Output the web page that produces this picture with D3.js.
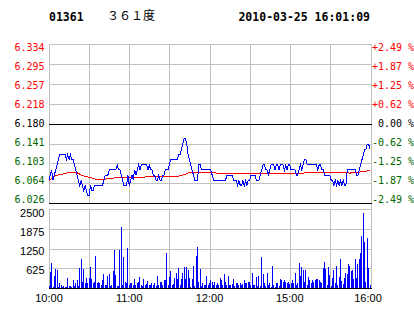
<!DOCTYPE html>
<html>
<head>
<meta charset="utf-8">
<script src="https://cdn.jsdelivr.net/npm/d3@7"></script>
<style>
body { margin: 0; background: #fff; }
svg { display: block; }
text { font-family: "DejaVu Sans Mono", monospace; font-size: 10px; white-space: pre; }
.sans { font-family: "Liberation Sans", Arial, sans-serif; font-size: 11px; }
</style>
</head>
<body>
<div id="chart"></div>
<script>
var stockCode = "01361",
    stockName = "３６１度",
    stamp = "2010-03-25 16:01:09";

// price axis (prev close 6.180, +/-2.49 %)
var priceTicks = [6.026, 6.064, 6.103, 6.141, 6.180, 6.218, 6.257, 6.295, 6.334];
var pctLabels  = ["-2.49 %", "-1.87 %", "-1.25 %", "-0.62 %", " 0.00 %", "+0.62 %", "+1.25 %", "+1.87 %", "+2.49 %"];
var volTicks   = [0, 625, 1250, 1875, 2500];
var timeTicks  = [0, 60, 120, 180, 240];
var timeLabels = ["10:00", "11:00", "12:00", "15:00", "16:00"];

// one price per trading minute (10:00-12:30, 14:30-16:00)
var prices = [
  6.07,6.08,6.09,6.07,6.08,6.09,6.10,6.11,6.12,6.12,
  6.12,6.12,6.12,6.11,6.12,6.11,6.12,6.11,6.11,6.10,
  6.09,6.08,6.07,6.06,6.07,6.06,6.05,6.06,6.05,6.04,
  6.04,6.06,6.05,6.05,6.06,6.06,6.06,6.06,6.06,6.06,
  6.06,6.07,6.08,6.08,6.08,6.09,6.09,6.09,6.09,6.09,
  6.09,6.10,6.09,6.09,6.08,6.07,6.06,6.06,6.06,6.08,
  6.06,6.07,6.08,6.07,6.09,6.08,6.09,6.10,6.09,6.10,
  6.10,6.10,6.10,6.10,6.09,6.10,6.09,6.09,6.08,6.08,
  6.07,6.07,6.08,6.07,6.07,6.08,6.08,6.09,6.09,6.09,
  6.10,6.11,6.11,6.11,6.11,6.11,6.11,6.12,6.12,6.13,
  6.14,6.15,6.15,6.14,6.12,6.11,6.10,6.09,6.08,6.07,
  6.07,6.07,6.10,6.10,6.09,6.09,6.09,6.09,6.09,6.09,
  6.09,6.09,6.08,6.07,6.07,6.07,6.07,6.07,6.07,6.07,
  6.07,6.07,6.07,6.08,6.08,6.08,6.08,6.08,6.07,6.07,
  6.07,6.06,6.07,6.06,6.06,6.07,6.06,6.07,6.06,6.07,
  6.07,6.08,6.08,6.08,6.08,6.07,6.07,6.07,6.08,6.09,
  6.10,6.10,6.09,6.09,6.08,6.09,6.10,6.10,6.10,6.09,
  6.10,6.10,6.09,6.10,6.10,6.10,6.09,6.10,6.09,6.10,
  6.10,6.09,6.09,6.09,6.09,6.08,6.08,6.09,6.10,6.09,
  6.10,6.11,6.11,6.10,6.10,6.10,6.10,6.10,6.10,6.10,
  6.10,6.09,6.10,6.10,6.09,6.09,6.08,6.08,6.08,6.08,
  6.08,6.07,6.07,6.06,6.07,6.06,6.07,6.06,6.07,6.06,
  6.07,6.06,6.06,6.09,6.09,6.09,6.09,6.09,6.09,6.09,
  6.08,6.08,6.09,6.10,6.11,6.12,6.13,6.13,6.14,6.14,
  6.13
];

// average price, read every 5 minutes
var avgMinutes = d3.range(0, 241, 5);
var avgPrices = [
  6.070,6.079,6.082,6.085,6.086,6.079,6.076,6.072,6.072,6.073,
  6.075,6.075,6.076,6.076,6.076,6.077,6.077,6.077,6.077,6.077,
  6.080,6.085,6.085,6.085,6.085,6.084,6.083,6.083,6.083,6.083,
  6.083,6.083,6.083,6.083,6.083,6.083,6.083,6.083,6.084,6.085,
  6.085,6.085,6.085,6.085,6.085,6.084,6.085,6.087,6.089
];

// volume per minute
var volumes = [
  60,510,790,40,385,600,580,40,155,90,
  30,60,20,40,320,60,70,40,260,50,
  155,260,50,635,915,200,600,155,320,155,
  310,665,270,155,200,1010,165,200,145,90,
  240,450,90,110,375,450,60,110,550,1195,
  425,70,50,1195,1945,110,980,200,155,1260,
  110,155,155,110,290,110,155,200,355,90,
  60,290,110,135,220,90,90,155,80,155,
  50,375,90,200,200,90,260,260,1100,80,
  355,530,90,135,320,480,290,625,90,290,
  480,655,270,655,570,320,40,300,685,50,
  1000,1310,200,590,50,150,110,90,375,110,
  155,260,200,90,200,90,155,110,320,260,
  110,450,200,90,375,90,90,135,300,60,
  155,155,90,155,90,135,260,155,155,200,
  200,80,480,110,80,355,50,385,60,980,
  450,155,60,480,80,155,30,700,90,30,
  155,155,50,290,250,200,240,200,155,200,
  135,155,240,155,490,90,155,800,385,655,
  570,200,580,90,340,240,155,260,200,260,
  300,290,260,200,155,635,820,610,90,675,
  425,60,320,570,155,700,80,340,905,230,
  135,320,490,450,760,700,550,580,290,915,
  320,760,905,1110,1630,2380,1465,200,1590,635,
  100
];

var W = 414, H = 314,
    left = 49, right = 371,
    gridColor = "#c0c0c0",
    up = "#ff0000", down = "#006600";

var svg = d3.select("#chart").append("svg")
    .attr("width", W).attr("height", H);

var x = d3.scaleLinear().domain([0, 240]).range([left, 370]);
var yPrice = d3.scaleLinear().domain([6.026, 6.334]).range([203, 44]);
var yPriceLabel = d3.scaleLinear().domain([6.026, 6.334]).range([203, 51]);
var yVol = d3.scaleLinear().domain([0, 2500]).range([288, 209]);
var yVolLabel = d3.scaleLinear().domain([625, 2500]).range([273.5, 216.5]);

function px(v) { return Math.round(v) + 0.5; }

function hline(g, y, color) {
    g.append("line")
        .attr("x1", left).attr("x2", right + 1)
        .attr("y1", px(y)).attr("y2", px(y))
        .attr("stroke", color).attr("shape-rendering", "crispEdges");
}

var grid = svg.append("g");

// vertical grid, every 30 minutes, in both panels
d3.range(0, 241, 30).forEach(function (t) {
    var xx = t === 240 ? right : x(t);
    [[44, 203], [209, 288]].forEach(function (r) {
        grid.append("line")
            .attr("x1", px(xx)).attr("x2", px(xx))
            .attr("y1", r[0]).attr("y2", r[1] + 1)
            .attr("stroke", gridColor).attr("shape-rendering", "crispEdges");
    });
});
grid.append("line")
    .attr("x1", px(right)).attr("x2", px(right))
    .attr("y1", 44).attr("y2", 289)
    .attr("stroke", gridColor).attr("shape-rendering", "crispEdges");

priceTicks.forEach(function (p, i) {
    var black = (i === 4 || i === 0);
    hline(grid, yPrice(p), black ? "#000" : gridColor);
});
volTicks.forEach(function (v, i) {
    hline(grid, yVol(v), i === 0 ? "#000" : gridColor);
});

// volume bars
svg.append("g").selectAll("rect")
    .data(volumes)
    .enter().append("rect")
    .attr("x", function (d, i) { return Math.floor(x(i)); })
    .attr("width", 1)
    .attr("y", function (d) { return Math.round(yVol(d)); })
    .attr("height", function (d) { return 288 - Math.round(yVol(d)); })
    .attr("fill", "#0000ff")
    .attr("shape-rendering", "crispEdges");

// average line
var avgLine = d3.line()
    .x(function (d, i) { return x(avgMinutes[i]); })
    .y(function (d) { return yPrice(d); });
svg.append("path")
    .attr("d", avgLine(avgPrices))
    .attr("fill", "none").attr("stroke", "#ff0000").attr("stroke-width", 1)
    .attr("shape-rendering", "crispEdges");

// price line
var priceLine = d3.line()
    .x(function (d, i) { return x(i); })
    .y(function (d) { return yPrice(d); });
svg.append("path")
    .attr("d", priceLine(prices))
    .attr("fill", "none").attr("stroke", "#0000ff").attr("stroke-width", 1)
    .attr("shape-rendering", "crispEdges");

// left price labels + right percent labels
function tickColor(i) { return i > 4 ? up : (i < 4 ? down : "#000"); }

svg.append("g").selectAll("text")
    .data(priceTicks)
    .enter().append("text")
    .attr("x", 44.5)
    .attr("y", function (d) { return yPriceLabel(d); })
    .attr("text-anchor", "end")
    .attr("fill", function (d, i) { return tickColor(i); })
    .text(function (d) { return d.toFixed(3); });

svg.append("g").selectAll("text")
    .data(pctLabels)
    .enter().append("text")
    .attr("x", right + 1)
    .attr("y", function (d, i) { return yPriceLabel(priceTicks[i]); })
    .attr("fill", function (d, i) { return tickColor(i); })
    .text(function (d) { return d; });

// volume labels
svg.append("g").selectAll("text")
    .data(volTicks.slice(1))
    .enter().append("text")
    .attr("class", "sans")
    .attr("x", 44.5)
    .attr("y", function (d) { return yVolLabel(d); })
    .attr("text-anchor", "end")
    .attr("fill", "#000")
    .text(function (d) { return d; });

// time labels
svg.append("g").selectAll("text")
    .data(timeTicks)
    .enter().append("text")
    .attr("class", "sans")
    .attr("x", function (d) { return x(d); })
    .attr("y", 302)
    .attr("text-anchor", "middle")
    .attr("dx", function (d, i) { return i === timeTicks.length - 1 ? -2 : 0; })
    .attr("fill", "#000")
    .text(function (d, i) { return timeLabels[i]; });

// header
svg.append("text")
    .attr("x", 49).attr("y", 20.5)
    .style("font-size", "11.5px").style("font-weight", "bold")
    .text(stockCode);
svg.append("text")
    .attr("x", 107).attr("y", 20)
    .style("font-family", "'Noto Sans CJK SC', sans-serif").style("font-size", "12px")
    .text(stockName);
svg.append("text")
    .attr("x", 370).attr("y", 20.5)
    .attr("text-anchor", "end")
    .style("font-size", "11.5px").style("font-weight", "bold")
    .text(stamp);
</script>
</body>
</html>
